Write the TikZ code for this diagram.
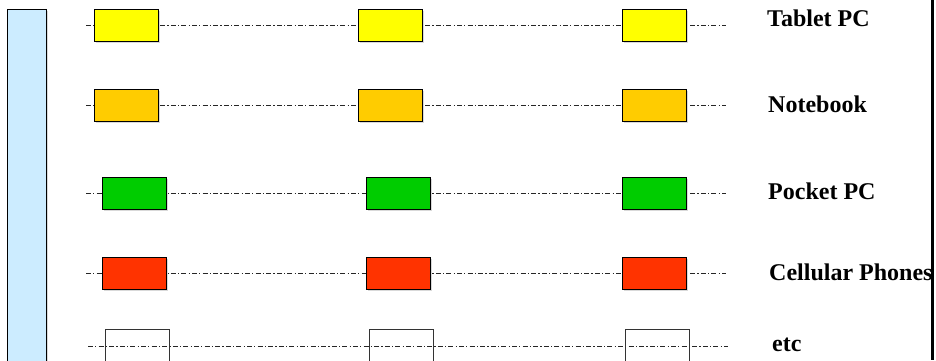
\documentclass[tikz,border=0pt]{standalone}
\usepackage{fontspec}
\setmainfont{Liberation Serif}
\usetikzlibrary{shadows}
\definecolor{cyanbar}{HTML}{CCECFF}
\definecolor{tabletc}{HTML}{FFFF00}
\definecolor{notec}{HTML}{FFCC00}
\definecolor{pocketc}{HTML}{00CC00}
\definecolor{cellc}{HTML}{FF3300}
\tikzset{
  devbox/.style={draw=black, line width=1pt, minimum width=64pt, minimum height=32pt, inner sep=0pt, anchor=north west,
    drop shadow={shadow xshift=1.5pt, shadow yshift=-1.5pt, fill=black!15, opacity=1}},
  emptybox/.style={draw=black!80, line width=1pt, minimum width=64pt, minimum height=32pt, inner sep=0pt, anchor=north west},
  timeline/.style={draw=black!85, line width=0.7pt, dash pattern=on 5pt off 2.2pt on 1.2pt off 2.2pt},
  lbl/.style={anchor=base west, inner sep=0pt, font=\fontsize{24}{24}\selectfont\bfseries}
}
\begin{document}
\begin{tikzpicture}[x=1pt,y=-1pt]
\useasboundingbox (0,0) rectangle (936,360);
% left bar
\node[draw=black, line width=1pt, fill=cyanbar, minimum width=39pt, minimum height=370pt, inner sep=0pt, anchor=north west,
  drop shadow={shadow xshift=1.5pt, shadow yshift=-1.5pt, fill=black!15, opacity=1}] (bar) at (7,9) {};
% right border
\coordinate (rt) at (932.5,0);
\coordinate (rb) at (932.5,360);
\draw[line width=3pt] (rt) -- (rb);
% timeline endpoints
\coordinate (s1) at (86,25);  \coordinate (e1) at (726,25);
\coordinate (s2) at (86,105); \coordinate (e2) at (726,105);
\coordinate (s3) at (86,193); \coordinate (e3) at (726,193);
\coordinate (s4) at (86,273); \coordinate (e4) at (726,273);
\coordinate (s5) at (88,346); \coordinate (e5) at (728,346);
\foreach \i in {1,...,5} {\draw[timeline] (s\i) -- (e\i);}
% row 1
\node[devbox, fill=tabletc] (t1) at (94,9) {};
\node[devbox, fill=tabletc] (t2) at (358,9) {};
\node[devbox, fill=tabletc] (t3) at (622,9) {};
% row 2
\node[devbox, fill=notec] (n1) at (94,89) {};
\node[devbox, fill=notec] (n2) at (358,89) {};
\node[devbox, fill=notec] (n3) at (622,89) {};
% row 3
\node[devbox, fill=pocketc] (p1) at (102,177) {};
\node[devbox, fill=pocketc] (p2) at (366,177) {};
\node[devbox, fill=pocketc] (p3) at (622,177) {};
% row 4
\node[devbox, fill=cellc] (c1) at (102,257) {};
\node[devbox, fill=cellc] (c2) at (366,257) {};
\node[devbox, fill=cellc] (c3) at (622,257) {};
% row 5
\node[emptybox] (x1) at (105,329) {};
\node[emptybox] (x2) at (369,329) {};
\node[emptybox] (x3) at (625,329) {};
% labels
\node[lbl] (l1) at (767,26) {Tablet PC};
\node[lbl] (l2) at (768,112) {Notebook};
\node[lbl] (l3) at (768,199) {Pocket PC};
\node[lbl] (l4) at (769,280) {Cellular Phones};
\node[lbl] (l5) at (772,351) {etc};
\end{tikzpicture}
\end{document}
